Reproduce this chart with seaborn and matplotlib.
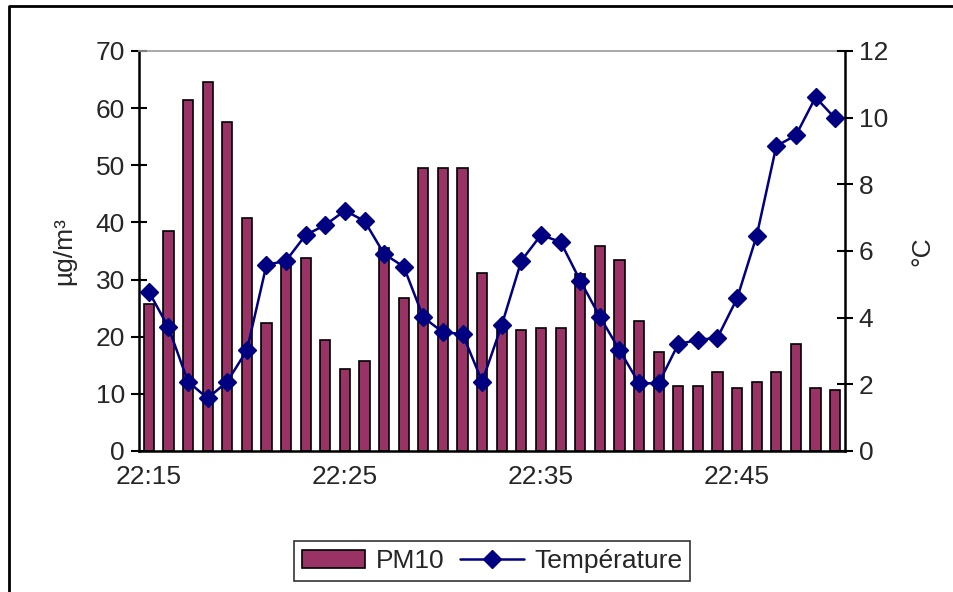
import matplotlib
matplotlib.use('Agg')
import matplotlib.pyplot as plt
import seaborn as sns
import numpy as np
import pandas as pd
from matplotlib.lines import Line2D
from matplotlib.patches import Patch

sns.set_style('white')
plt.rcParams['font.family'] = ['Liberation Sans', 'DejaVu Sans']
plt.rcParams['font.size'] = 19

# one reading per minute, 22:15 -> 22:50
times = ['22:%02d' % m for m in range(15, 51)]
pm10 = [25.7, 38.5, 61.5, 64.5, 57.6, 40.7, 22.4, 33.0, 33.7, 19.4,
        14.3, 15.8, 35.6, 26.8, 49.5, 49.5, 49.5, 31.1, 21.3, 21.2,
        21.6, 21.6, 31.0, 35.9, 33.4, 22.7, 17.3, 11.4, 11.4, 13.9,
        11.0, 12.1, 13.9, 18.7, 11.0, 10.7]
temperature = [4.78, 3.71, 2.08, 1.58, 2.08, 3.02, 5.58, 5.71, 6.48, 6.78,
               7.21, 6.90, 5.91, 5.53, 4.01, 3.56, 3.51, 2.08, 3.78, 5.71,
               6.48, 6.27, 5.11, 4.03, 3.03, 2.03, 2.03, 3.21, 3.33, 3.40,
               4.58, 6.46, 9.15, 9.47, 10.61, 9.98]

df = pd.DataFrame({'time': times, 'PM10': pm10, 'temp': temperature})
df['pos'] = np.arange(len(df))

bar_color = '#993366'
line_color = '#000080'

fig = plt.figure(figsize=(9.54, 5.92), dpi=100)
ax = fig.add_axes([0.1457, 0.2382, 0.7400, 0.6757])

sns.barplot(data=df, x='time', y='PM10', ax=ax, color=bar_color,
            width=0.52, edgecolor='black', linewidth=1.2, saturation=1)
ax.set_xlim(-0.5, len(df) - 0.5)
ax.set_ylim(0, 70)
ax.set_yticks(range(0, 71, 10))
ax.set_ylabel('µg/m³', labelpad=14)
ax.set_xlabel('')

ax.set_xticks(range(0, len(df), 10))
ax.set_xticklabels([times[i] for i in range(0, len(df), 10)])
ax.set_xticks(np.arange(-0.5, len(df), 1), minor=True)
ax.tick_params(axis='x', which='major', length=0, pad=10)
ax.tick_params(axis='x', which='minor', direction='inout', length=9, width=1.5, color='black')
ax.tick_params(axis='y', direction='inout', length=12, width=1.5, color='black', left=True, pad=4)

for s in ['left', 'bottom']:
    ax.spines[s].set_color('black')
    ax.spines[s].set_linewidth(1.8)
ax.spines['top'].set_color('#999999')
ax.spines['top'].set_linewidth(1.2)
ax.spines['right'].set_visible(False)

ax2 = ax.twinx()
sns.lineplot(data=df, x='pos', y='temp', ax=ax2, color=line_color, linewidth=1.8,
             marker='D', markersize=9, markeredgecolor=line_color, markeredgewidth=1)
ax2.set_xlim(-0.5, len(df) - 0.5)
ax2.set_ylim(0, 12)
ax2.set_yticks(range(0, 13, 2))
ax2.set_ylabel('°C', labelpad=16)
ax2.set_xlabel('')
ax2.tick_params(axis='y', direction='inout', length=12, width=1.5, color='black', right=True, pad=4)
for s in ['left', 'top', 'bottom']:
    ax2.spines[s].set_visible(False)
ax2.spines['right'].set_color('black')
ax2.spines['right'].set_linewidth(1.8)

handles = [Patch(facecolor=bar_color, edgecolor='black', linewidth=1.2),
           Line2D([0], [0], color=line_color, linewidth=1.8, marker='D',
                  markersize=9, markeredgecolor=line_color)]
leg = fig.legend(handles, ['PM10', 'Température'], ncol=2, loc='center',
                 bbox_to_anchor=(0.516, 0.052), frameon=True, fancybox=False,
                 handlelength=2.4, handletextpad=0.4, columnspacing=0.6,
                 borderpad=0.3, fontsize=19)
leg.get_frame().set_edgecolor('black')
leg.get_frame().set_linewidth(1.2)

# outer chart frame (cropped chart: only top and left visible)
x0, y0 = 9 / 954, 1 - 6 / 592
fig.add_artist(Line2D([x0, x0, 1.0], [0.0, y0, y0], transform=fig.transFigure,
                      color='black', linewidth=2))

plt.savefig('out.png', dpi=100)
plt.close()
